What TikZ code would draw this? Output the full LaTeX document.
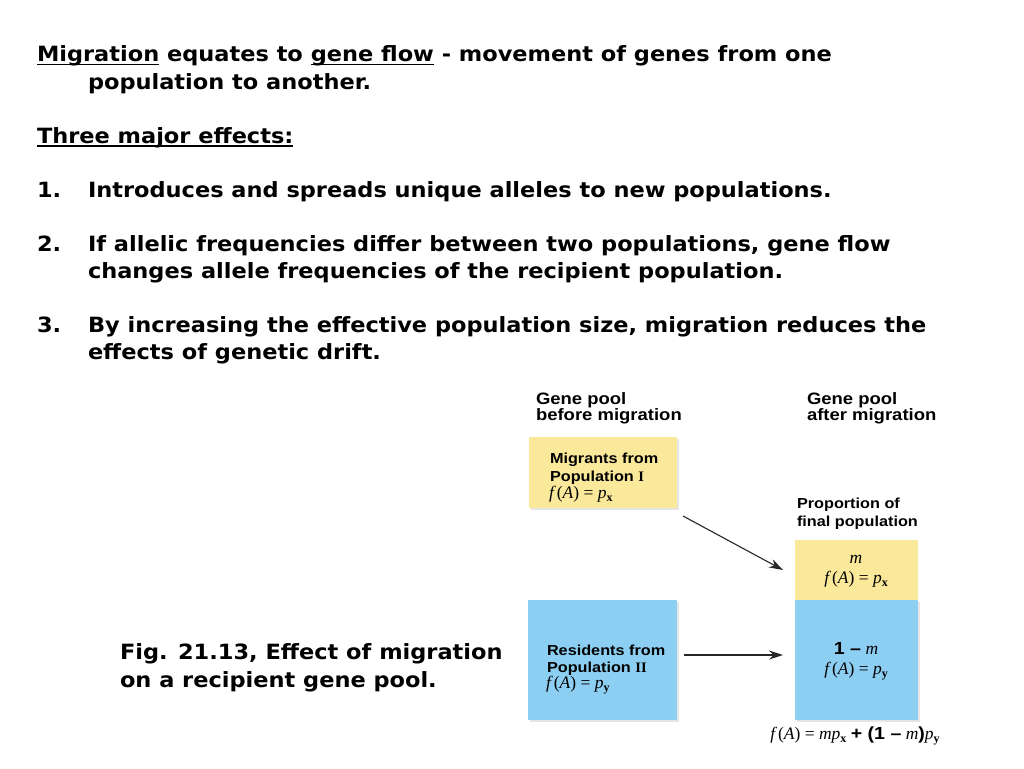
\documentclass[tikz,border=0pt]{standalone}
\usepackage{fontspec}
\setmainfont[FakeStretch=1.07]{DejaVu Sans}
\newfontfamily\lsans[FakeStretch=1.12]{Liberation Sans}
\newfontfamily\tms{Liberation Serif}
\usetikzlibrary{arrows.meta,shadows}
\definecolor{ylw}{RGB}{250,232,155}
\definecolor{blu}{RGB}{141,207,242}
\newcommand\myul[1]{\setbox0\hbox{#1}\rlap{\rule[-3.5pt]{\wd0}{1.6pt}}\box0\relax}
\newcommand\mv[1]{{\tms\itshape #1}}
\newcommand\sbs[1]{\raisebox{-3pt}{\fontsize{12}{12}\selectfont\tms\bfseries #1}}
\newcommand\fA{\mv{f}\,{\tms(}\mv{A}{\tms)} {\tms=} }
\begin{document}
\begin{tikzpicture}[x=1pt,y=-1pt,
  every node/.style={inner sep=0pt,outer sep=0pt},
  txt/.style={anchor=base west,font=\bfseries\fontsize{21}{24}\selectfont},
  head/.style={anchor=base west,font=\lsans\bfseries\fontsize{16.5}{16}\selectfont},
  lbl/.style={anchor=base west,font=\lsans\bfseries\fontsize{14.5}{16}\selectfont},
  mth/.style={anchor=base west,font=\tms\fontsize{17.5}{16}\selectfont},
  frm/.style={anchor=base,font=\tms\fontsize{17.5}{18}\selectfont},
  box/.style={draw=none,drop shadow={shadow xshift=2pt,shadow yshift=-2pt,fill=black!10,opacity=1}},
  arr/.style={-{Stealth[length=14pt,width=9pt]},line width=1.1pt,draw=black!85}]
\useasboundingbox[fill=white] (0,0) rectangle (1024,768);

% main text
\node[txt] (l1) at (37,62) {\myul{Migration} equates to \myul{gene flow} - movement of genes from one};
\node[txt] (l2) at (88,89) {population to another.};
\node[txt] (l3) at (37,143) {\myul{Three major effects:}};
\node[txt] (n1) at (37,197) {1.};
\node[txt] (l4) at (88,197) {Introduces and spreads unique alleles to new populations.};
\node[txt] (n2) at (37,251) {2.};
\node[txt] (l5) at (88,251) {If allelic frequencies differ between two populations, gene flow};
\node[txt] (l6) at (88,278) {changes allele frequencies of the recipient population.};
\node[txt] (n3) at (37,332) {3.};
\node[txt] (l7) at (88,332) {By increasing the effective population size, migration reduces the};
\node[txt] (l8) at (88,359) {effects of genetic drift.};

% caption
\node[txt] (c1) at (120,659) {Fig. 21.13, Effect of migration};
\node[txt] (c2) at (120,687) {on a recipient gene pool.};

% boxes
\node[box,fill=ylw,minimum width=148pt,minimum height=71pt] (mig) at (603,472.5) {};
\node[box,fill=blu,minimum width=149pt,minimum height=120pt] (res) at (602.5,660) {};
\node[box,fill=blu,minimum width=123pt,minimum height=120pt] (pr) at (856.5,660) {};
\node[fill=ylw,minimum width=123pt,minimum height=60pt] (pm) at (856.5,570) {};

% headings
\node[head] (h1a) at (536,404) {Gene pool};
\node[head] (h1b) at (536,420) {before migration};
\node[head] (h2a) at (807,404) {Gene pool};
\node[head] (h2b) at (807,420) {after migration};
\node[lbl] (p1) at (797,508) {Proportion of};
\node[lbl] (p2) at (797,526) {final population};

% box texts
\node[lbl] (m1) at (550,463) {Migrants from};
\node[lbl] (m2) at (550,481) {Population {\tms\bfseries I}};
\node[mth] (m3) at (549,498) {\fA\mv{p}\sbs{x}};
\node[lbl] (r1) at (547,655) {Residents from};
\node[lbl] (r2) at (547,672) {Population {\tms\bfseries II}};
\node[mth] (r3) at (546,688) {\fA\mv{p}\sbs{y}};

\node[frm] (pm1) at (856,563) {\mv{m}};
\node[frm] (pm2) at (856,583) {\fA\mv{p}\sbs{x}};
\node[frm] (pr1) at (856,654) {{\lsans\bfseries 1 \textendash{}} \mv{m}};
\node[frm] (pr2) at (856,674) {\fA\mv{p}\sbs{y}};
\node[frm] (tot) at (855,739) {\fA\mv{mp}\sbs{x} {\lsans\bfseries + (1 \textendash{}} \mv{m}{\lsans\bfseries )}\mv{p}\sbs{y}};

% arrows
\draw[arr] ([shift={(6pt,-8pt)}]mig.south east) -- ([xshift=-12pt]pm.west);
\draw[arr] ([shift={(7pt,5pt)}]res.east) -- ([shift={(-12pt,5pt)}]pr.west);
\end{tikzpicture}
\end{document}
